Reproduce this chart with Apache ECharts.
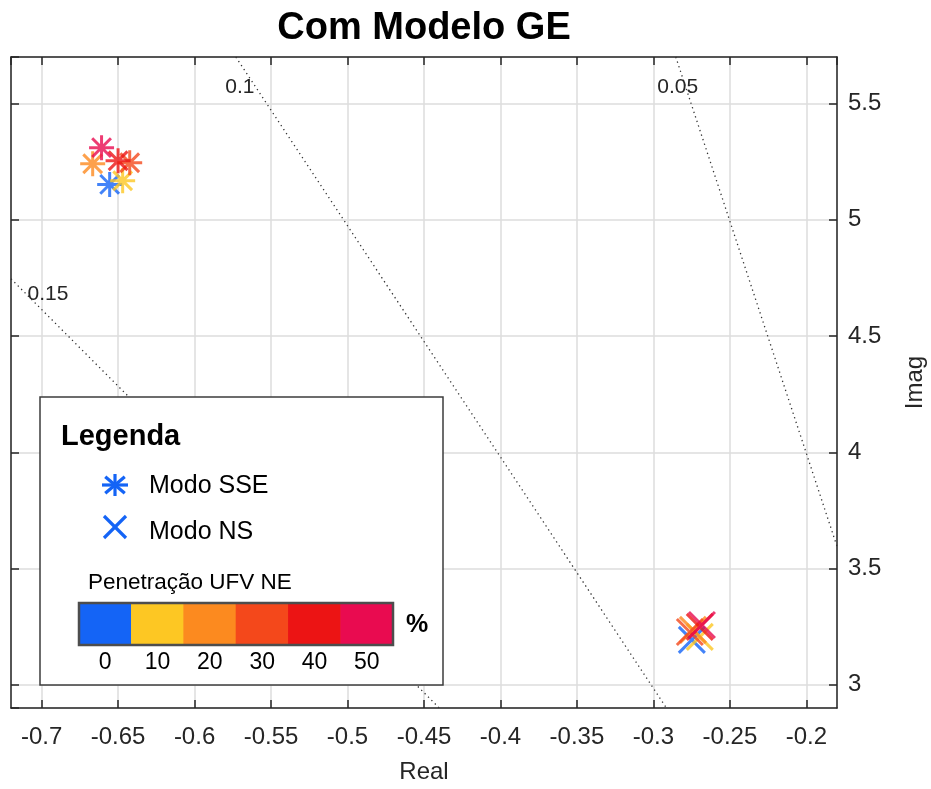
<!DOCTYPE html>
<html><head><meta charset="utf-8">
<script src="https://cdn.jsdelivr.net/npm/echarts@6/dist/echarts.min.js"></script>
<style>html,body{margin:0;padding:0;background:#fff}#c{width:931px;height:789px}</style>
</head><body><div id="c"></div>
<script>
// ---- data ----
const levels = [0, 10, 20, 30, 40, 50];
const levelColors = ['#1464F6', '#FDC723', '#FC8A1F', '#F4481B', '#EC1414', '#E90B50'];
const sseReal = [-0.6555, -0.6470, -0.6666, -0.6424, -0.6500, -0.6608];
const sseImag = [5.152, 5.168, 5.241, 5.245, 5.254, 5.310];
const nsReal = [-0.2749, -0.2697, -0.2742, -0.2762, -0.2697, -0.2683];
const nsImag = [3.193, 3.206, 3.236, 3.227, 3.249, 3.257];
const zetaNames = ['0.15', '0.1', '0.05'];
const zetaReal = [[-0.72, -0.44], [-0.573, -0.2915], [-0.2854, -0.18]];
const zetaImag = [[4.746, 2.9], [5.7, 2.9], [5.7, 3.595]];

// ---- styles ----
const FONT = 'Liberation Sans, Arial, Helvetica, sans-serif';
const AX = '#262626';
const ASTER = 'path://M0,-10L0,10M-10,0L10,0M-7.5,-7.5L7.5,7.5M-7.5,7.5L7.5,-7.5';
const CROSS = 'path://M-10,-10L10,10M-10,10L10,-10';
const labelOffsets = [[37, 15], [4, 30], [2, 30]];

const chart = echarts.init(document.getElementById('c'), null, {renderer: 'canvas'});

const series = [];
zetaNames.forEach((nm, k) => {
  series.push({
    type: 'line', silent: true, z: 1,
    symbol: 'circle', symbolSize: 0, showSymbol: true,
    lineStyle: {color: '#333', width: 1.3, type: [1.3, 3.5]},
    data: zetaReal[k].map((x, i) => i === 0 ? {
      value: [x, zetaImag[k][i]],
      label: {show: true, formatter: nm, position: labelOffsets[k], align: 'center', verticalAlign: 'middle',
              fontSize: 21, color: AX, fontFamily: FONT}
    } : [x, zetaImag[k][i]]),
    animation: false
  });
});
series.push({
  type: 'scatter', name: 'Modo SSE', symbol: ASTER, symbolSize: 25, z: 5,
  data: sseReal.map((x, i) => ({value: [x, sseImag[i]],
    itemStyle: {color: 'transparent', borderColor: levelColors[i], borderWidth: 3}})),
  animation: false
});
series.push({
  type: 'scatter', name: 'Modo NS', symbol: CROSS, symbolSize: 26, z: 5,
  data: nsReal.map((x, i) => ({value: [x, nsImag[i]],
    itemStyle: {color: 'transparent', borderColor: levelColors[i], borderWidth: 3}})),
  animation: false
});

// legend graphic
const ZL = 100;
function asterLines(cx, cy, rx, ry, color) {
  const d = 0.75;
  const segs = [[0, -ry, 0, ry], [-rx, 0, rx, 0], [-rx*d, -ry*d, rx*d, ry*d], [-rx*d, ry*d, rx*d, -ry*d]];
  return segs.map(s => ({type: 'line', z: ZL + 2, shape: {x1: cx+s[0], y1: cy+s[1], x2: cx+s[2], y2: cy+s[3]},
    style: {stroke: color, lineWidth: 3.2}}));
}
function crossLines(cx, cy, r, color) {
  return [[-r, -r, r, r], [-r, r, r, -r]].map(s => ({type: 'line', z: ZL + 2,
    shape: {x1: cx+s[0], y1: cy+s[1], x2: cx+s[2], y2: cy+s[3]}, style: {stroke: color, lineWidth: 3.2}}));
}
const cbX = 79, cbY = 603, cbW = 314, cbH = 42;
const segW = cbW / levels.length;
const legendChildren = [
  {type: 'rect', z: ZL, shape: {x: 40, y: 397, width: 403, height: 288}, style: {fill: '#ffffff', stroke: '#3c3c3c', lineWidth: 1.5}},
  {type: 'text', z: ZL + 2, x: 61, y: 437, style: {text: 'Legenda', fontSize: 29, fontWeight: 'bold', fontFamily: FONT, fill: '#000', verticalAlign: 'middle'}},
  ...asterLines(115, 485, 13, 11, levelColors[0]),
  {type: 'text', z: ZL + 2, x: 149, y: 486, style: {text: 'Modo SSE', fontSize: 25, fontFamily: FONT, fill: '#000', verticalAlign: 'middle'}},
  ...crossLines(115, 527, 11, levelColors[0]),
  {type: 'text', z: ZL + 2, x: 149, y: 532, style: {text: 'Modo NS', fontSize: 25, fontFamily: FONT, fill: '#000', verticalAlign: 'middle'}},
  {type: 'text', z: ZL + 2, x: 88, y: 583, style: {text: 'Penetração UFV NE', fontSize: 22.5, fontFamily: FONT, fill: '#000', verticalAlign: 'middle'}},
];
levels.forEach((lv, i) => {
  legendChildren.push({type: 'rect', z: ZL + 1, shape: {x: cbX + i*segW - 0.3, y: cbY, width: segW + 0.6, height: cbH}, style: {fill: levelColors[i]}});
  legendChildren.push({type: 'text', z: ZL + 2, x: cbX + (i+0.5)*segW, y: 663, style: {text: String(lv), fontSize: 23, fontFamily: FONT, fill: '#000', align: 'center', verticalAlign: 'middle'}});
});
legendChildren.push({type: 'rect', z: ZL + 2, shape: {x: cbX, y: cbY, width: cbW, height: cbH}, style: {fill: 'none', stroke: '#4d4d4d', lineWidth: 2.5}});
legendChildren.push({type: 'text', z: ZL + 2, x: 417, y: 625, style: {text: '%', fontSize: 25, fontWeight: 'bold', fontFamily: FONT, fill: '#000', align: 'center', verticalAlign: 'middle'}});

const axisCommon = {
  type: 'value',
  axisLine: {show: true, onZero: false, lineStyle: {color: AX, width: 1.5}},
  axisTick: {show: true, inside: true, length: 8, lineStyle: {color: AX, width: 1.5}},
};

chart.setOption({
  animation: false,
  backgroundColor: '#fff',
  textStyle: {fontFamily: FONT},
  title: {text: 'Com Modelo GE', left: 419, top: 5, textAlign: 'center',
    textStyle: {fontSize: 38, fontWeight: 'bold', color: '#000', fontFamily: FONT}},
  grid: {left: 11, right: 94, top: 57, bottom: 81, containLabel: false, outerBoundsMode: 'none'},
  xAxis: [
    Object.assign({}, axisCommon, {
      position: 'bottom', min: -0.72, max: -0.18, splitNumber: 11, minInterval: 0.05, maxInterval: 0.05,
      axisLabel: {showMinLabel: false, showMaxLabel: false, fontSize: 24, color: AX, margin: 17, fontFamily: FONT},
      splitLine: {show: true, lineStyle: {color: '#dcdcdc', width: 1.5}},
      name: 'Real', nameLocation: 'middle', nameGap: 52,
      nameTextStyle: {fontSize: 24, color: AX, fontFamily: FONT}
    }),
    Object.assign({}, axisCommon, {
      position: 'top', min: -0.72, max: -0.18, splitNumber: 11, minInterval: 0.05, maxInterval: 0.05,
      axisLabel: {show: false}, splitLine: {show: false}
    })
  ],
  yAxis: [
    Object.assign({}, axisCommon, {
      position: 'right', min: 2.9, max: 5.7, splitNumber: 6, minInterval: 0.5, maxInterval: 0.5,
      axisLabel: {showMinLabel: false, showMaxLabel: false, fontSize: 24, color: AX, margin: 11, fontFamily: FONT},
      splitLine: {show: true, lineStyle: {color: '#dcdcdc', width: 1.5}},
      name: 'Imag', nameLocation: 'middle', nameGap: 66, nameRotate: 90,
      nameTextStyle: {fontSize: 24, color: AX, fontFamily: FONT}
    }),
    Object.assign({}, axisCommon, {
      position: 'left', min: 2.9, max: 5.7, splitNumber: 6, minInterval: 0.5, maxInterval: 0.5,
      axisLabel: {show: false}, splitLine: {show: false}
    })
  ],
  series: series,
  graphic: [{type: 'group', z: ZL, children: legendChildren}]
});
</script>
</body></html>
